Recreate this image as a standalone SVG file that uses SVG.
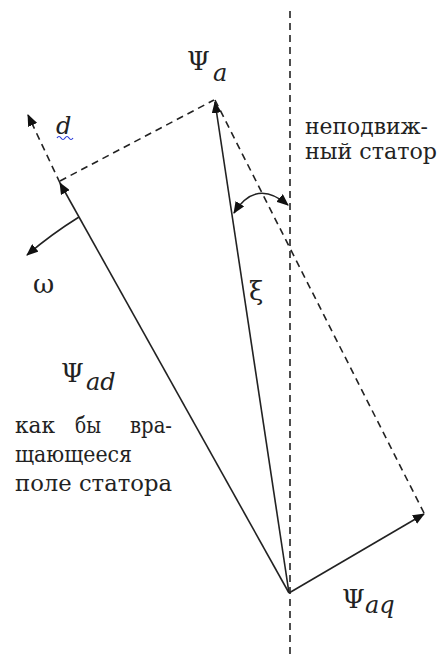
<svg xmlns="http://www.w3.org/2000/svg" width="444" height="658" viewBox="0 0 444 658">
<style>
text{font-family:"DejaVu Serif",serif;fill:#222}
.t{font-size:23px}
.g{font-size:26px}
.i{font-size:24px;font-style:italic}
.s{stroke:#222;stroke-width:1.6;fill:none}
.d{stroke:#222;stroke-width:1.6;fill:none;stroke-dasharray:7,5}
</style>
<defs>
<marker id="ah" viewBox="0 0 12 10" refX="11" refY="5" markerWidth="12" markerHeight="10" markerUnits="userSpaceOnUse" orient="auto-start-reverse">
<path d="M0,0 L12,5 L0,10 z" fill="#111"/>
</marker>
</defs>
<g id="connectors">
<line class="d" x1="290" y1="11" x2="290" y2="658"/>
<line class="s" x1="289" y1="593" x2="60" y2="183" marker-end="url(#ah)"/>
<line class="d" x1="60" y1="183" x2="28" y2="115" marker-end="url(#ah)"/>
<line class="d" x1="60" y1="181" x2="214" y2="100"/>
<line class="s" x1="289" y1="593" x2="215" y2="102" marker-end="url(#ah)"/>
<line class="d" x1="215" y1="100" x2="424" y2="513"/>
<line class="s" x1="289" y1="593" x2="424" y2="514" marker-end="url(#ah)"/>
<path class="s" d="M79,217 A430,430 0 0 0 27,255" marker-end="url(#ah)"/>
<path class="s" d="M234,213 Q256,178 288,205" marker-start="url(#ah)" marker-end="url(#ah)"/>
</g>
<g id="label-psi-a"><text class="g" x="187" y="70">Ψ</text><text class="i" x="213" y="81">a</text></g>
<g id="label-d"><text class="i" x="56" y="134">d</text><path d="M57,138 q2,-3 4,0 q2,3 4,0 q2,-3 4,0 q2,3 4,0" stroke="#2a3bd8" stroke-width="1.2" fill="none"/></g>
<g id="label-omega"><text class="g" x="33" y="293">ω</text></g>
<g id="label-xi"><text class="g" x="249" y="300">ξ</text></g>
<g id="label-stator"><text class="t" x="305" y="134" textLength="123" lengthAdjust="spacingAndGlyphs">неподвиж-</text><text class="t" x="305" y="159" textLength="132" lengthAdjust="spacingAndGlyphs">ный статор</text></g>
<g id="label-psi-ad"><text class="g" x="61" y="382">Ψ</text><text class="i" x="86" y="390">ad</text></g>
<g id="label-rotating"><text class="t" x="15" y="433" textLength="40" lengthAdjust="spacingAndGlyphs">как</text><text class="t" x="75" y="433" textLength="26" lengthAdjust="spacingAndGlyphs">бы</text><text class="t" x="130" y="433" textLength="42" lengthAdjust="spacingAndGlyphs">вра-</text><text class="t" x="15" y="462" textLength="117" lengthAdjust="spacingAndGlyphs">щающееся</text><text class="t" x="15" y="491" textLength="157" lengthAdjust="spacingAndGlyphs">поле статора</text></g>
<g id="label-psi-aq"><text class="g" x="342" y="608">Ψ</text><text class="i" x="365" y="613">aq</text></g>
</svg>
